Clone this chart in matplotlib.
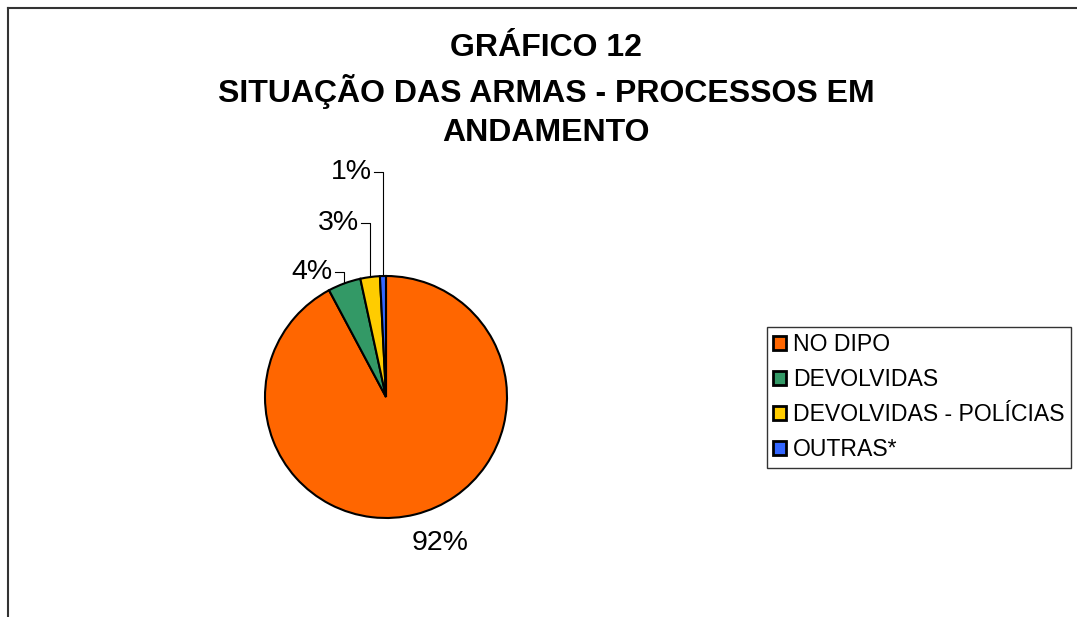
import matplotlib
matplotlib.use("Agg")
import matplotlib.pyplot as plt
from matplotlib.lines import Line2D
from matplotlib.patches import Patch
import numpy as np

plt.rcParams['font.family'] = ['Liberation Sans', 'DejaVu Sans']

categories = ["NO DIPO", "DEVOLVIDAS", "DEVOLVIDAS - POLÍCIAS", "OUTRAS*"]
values = [92.2, 4.4, 2.6, 0.8]
pct_labels = ["92%", "4%", "3%", "1%"]
colors = ["#FF6600", "#339966", "#FFCC00", "#3366FF"]
title = "GRÁFICO 12\nSITUAÇÃO DAS ARMAS - PROCESSOS EM\nANDAMENTO"

W, H = 1077, 617
fig = plt.figure(figsize=(W / 100, H / 100), dpi=100)

cx, cy, r = 386, 397, 121
ax = fig.add_axes([(cx - r) / W, (H - cy - r) / H, 2 * r / W, 2 * r / H])
wedges, _ = ax.pie(values, colors=colors, startangle=90, counterclock=False,
                   wedgeprops=dict(edgecolor="black", linewidth=1.5))
ax.set_xlim(-1, 1)
ax.set_ylim(-1, 1)

# label positions (layout, in radius units)
label_y = {1: 1.03, 2: 1.44, 3: 1.86}
for i, w in enumerate(wedges):
    ang = np.deg2rad((w.theta1 + w.theta2) / 2)
    mx, my = np.cos(ang), np.sin(ang)
    if i == 0:
        ax.text(0.45, -1.21, pct_labels[i], ha="center", va="center",
                fontsize=20.5, clip_on=False)
        continue
    ly = label_y[i]
    ax.plot([mx, mx, mx - 0.075], [my, ly, ly], color="black", lw=0.8,
            clip_on=False)
    ax.text(mx - 0.095, ly, pct_labels[i], ha="right", va="center",
            fontsize=20.5, clip_on=False)

fig.text(546 / W, 1 - 90.5 / H, title, ha="center", va="center",
         fontsize=23, fontweight="bold", linespacing=1.4)

handles = [Patch(facecolor=c, edgecolor="black", linewidth=2.0) for c in colors]
leg = fig.legend(handles, categories, loc="upper left",
                 bbox_to_anchor=(767 / W, 1 - 327 / H), fontsize=16.6,
                 frameon=True, fancybox=False, edgecolor="black",
                 handlelength=0.55, handleheight=0.55, handletextpad=0.3,
                 labelspacing=0.515, borderpad=0.28, borderaxespad=0)
leg.get_frame().set_linewidth(1.0)

# outer chart frame (top and left edges visible)
fig.add_artist(Line2D([8 / W, 8 / W], [0, 1 - 8 / H], color="#333333", lw=1.5))
fig.add_artist(Line2D([8 / W, 1], [1 - 8 / H, 1 - 8 / H], color="#333333", lw=1.5))

fig.savefig("out.png", dpi=100)
